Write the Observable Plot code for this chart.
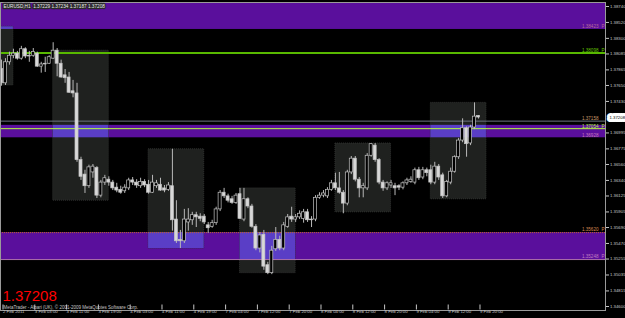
<!DOCTYPE html>
<html><head><meta charset="utf-8">
<script src="https://cdn.jsdelivr.net/npm/d3@7"></script>
<script src="https://cdn.jsdelivr.net/npm/@observablehq/plot@0.6"></script>
<style>
html,body{margin:0;padding:0;background:#000;}
#chart{width:625px;height:318px;overflow:hidden;}
svg{display:block;}
</style></head><body><div id="chart"></div>
<script>
// ---- data (EURUSD H1, 2-9 Feb 2011) ----
const opens = [1.3788,1.3768,1.3797,1.3806,1.3809,1.3802,1.3815,1.3805,1.3806,1.3809,
1.3791,1.3794,1.3795,1.3802,1.3813,1.3795,1.3779,1.3776,1.3757,1.3754,
1.3662,1.3642,1.3626,1.3645,1.3651,1.3613,1.3631,1.3635,1.3631,1.3624,
1.3621,1.3619,1.3623,1.3634,1.3631,1.3626,1.3632,1.3628,1.3617,1.3626,
1.3628,1.3623,1.3621,1.3626,1.3580,1.3552,1.3550,1.3576,1.3579,1.3586,
1.3584,1.3584,1.3572,1.3570,1.3575,1.3594,1.3617,1.3612,1.3608,1.3603,
1.3615,1.3580,1.3608,1.3598,1.3570,1.3540,1.3559,1.3517,1.3506,1.3539,
1.3552,1.3540,1.3570,1.3584,1.3580,1.3583,1.3581,1.3590,1.3580,1.3580,
1.3610,1.3613,1.3612,1.3621,1.3630,1.3623,1.3617,1.3602,1.3645,1.3664,
1.3635,1.3623,1.3623,1.3668,1.3682,1.3662,1.3631,1.3623,1.3627,1.3626,
1.3626,1.3624,1.3630,1.3632,1.3631,1.3648,1.3638,1.3648,1.3648,1.3631,
1.3653,1.3641,1.3612,1.3631,1.3646,1.3666,1.3689,1.3706,1.3685,1.3707,
1.37229];
const highs = [1.3800,1.3802,1.3811,1.3815,1.3812,1.3819,1.3817,1.3812,1.3816,1.3811,
1.3797,1.3804,1.3806,1.3824,1.3816,1.3800,1.3787,1.3783,1.3772,1.3768,
1.3666,1.3648,1.3655,1.3656,1.3653,1.3634,1.3641,1.3639,1.3634,1.3630,
1.3626,1.3628,1.3637,1.3638,1.3635,1.3637,1.3635,1.3634,1.3641,1.3634,
1.3637,1.3627,1.3631,1.3677,1.3606,1.3565,1.3594,1.3595,1.3590,1.3590,
1.3588,1.3587,1.3576,1.3579,1.3597,1.3620,1.3623,1.3615,1.3612,1.3616,
1.3623,1.3623,1.3610,1.3601,1.3573,1.3562,1.3565,1.3521,1.3543,1.3569,
1.3557,1.3576,1.3587,1.3597,1.3587,1.3592,1.3594,1.3594,1.3584,1.3613,
1.3617,1.3620,1.3624,1.3634,1.3644,1.3645,1.3620,1.3648,1.3667,1.3667,
1.3638,1.3630,1.3671,1.3685,1.3685,1.3664,1.3634,1.3632,1.3634,1.3630,
1.3628,1.3632,1.3637,1.3639,1.3651,1.3652,1.3652,1.3651,1.3655,1.3659,
1.3656,1.3644,1.3634,1.3651,1.3668,1.3692,1.3719,1.3708,1.3710,1.3741,
1.37234];
const lows = [1.3764,1.3765,1.3793,1.3802,1.3800,1.3800,1.3802,1.3797,1.3804,1.3790,
1.3782,1.3783,1.3794,1.3801,1.3777,1.3775,1.3768,1.3754,1.3748,1.3659,
1.3634,1.3616,1.3623,1.3637,1.3609,1.3610,1.3627,1.3626,1.3620,1.3617,
1.3615,1.3616,1.3620,1.3627,1.3623,1.3623,1.3624,1.3615,1.3616,1.3623,
1.3619,1.3617,1.3619,1.3564,1.3547,1.3540,1.3547,1.3564,1.3572,1.3569,
1.3577,1.3573,1.3561,1.3568,1.3572,1.3591,1.3609,1.3603,1.3601,1.3601,
1.3580,1.3577,1.3595,1.3568,1.3537,1.3534,1.3510,1.3504,1.3504,1.3536,
1.3537,1.3537,1.3568,1.3576,1.3576,1.3580,1.3575,1.3576,1.3569,1.3577,
1.3608,1.3610,1.3609,1.3619,1.3620,1.3615,1.3588,1.3599,1.3642,1.3632,
1.3610,1.3610,1.3620,1.3666,1.3659,1.3628,1.3619,1.3620,1.3623,1.3613,
1.3620,1.3621,1.3627,1.3630,1.3628,1.3634,1.3635,1.3639,1.3628,1.3628,
1.3634,1.3609,1.3610,1.3628,1.3644,1.3663,1.3686,1.3666,1.3682,1.3704,
1.37187];
const closes = [1.3768,1.3797,1.3806,1.3809,1.3802,1.3815,1.3805,1.3806,1.3811,1.3791,
1.3794,1.3795,1.3804,1.3813,1.3795,1.3776,1.3775,1.3755,1.3754,1.3662,
1.3639,1.3626,1.3652,1.3653,1.3613,1.3631,1.3637,1.3631,1.3623,1.3620,
1.3617,1.3624,1.3634,1.3631,1.3627,1.3632,1.3627,1.3617,1.3631,1.3630,
1.3620,1.3620,1.3627,1.3579,1.3550,1.3550,1.3580,1.3580,1.3586,1.3583,
1.3581,1.3576,1.3568,1.3575,1.3594,1.3617,1.3612,1.3606,1.3603,1.3613,
1.3581,1.3608,1.3598,1.3570,1.3540,1.3558,1.3515,1.3506,1.3537,1.3552,
1.3540,1.3572,1.3583,1.3580,1.3583,1.3588,1.3590,1.3579,1.3579,1.3610,
1.3613,1.3616,1.3621,1.3630,1.3623,1.3617,1.3602,1.3645,1.3664,1.3635,
1.3623,1.3626,1.3668,1.3684,1.3662,1.3631,1.3623,1.3630,1.3630,1.3623,
1.3624,1.3630,1.3634,1.3635,1.3648,1.3637,1.3648,1.3644,1.3631,1.3653,
1.3638,1.3612,1.3632,1.3646,1.3666,1.3689,1.3706,1.3684,1.3707,1.3722,
1.37208];

const xTickIndex = [0,8,16,24,32,40,48,56,64,72,80,88,96,104,112,120];
const xTickLabels = ["2 Feb 2011","3 Feb 03:00","3 Feb 11:00","3 Feb 19:00","4 Feb 03:00","4 Feb 11:00","4 Feb 19:00","7 Feb 04:00","7 Feb 12:00","7 Feb 20:00","8 Feb 04:00","8 Feb 12:00","8 Feb 20:00","9 Feb 04:00","9 Feb 12:00","9 Feb 20:00"];
const yTicks = [1.38740,1.38520,1.38300,1.38085,1.37865,1.37650,1.37430,1.36995,1.36775,1.36560,1.36340,1.36125,1.35905,1.35690,1.35470,1.35255,1.35035,1.34815,1.34600];

// supply/demand zones
const zoneTop = [1.3900, 1.37100, 1.35620];
const zoneBottom = [1.38423, 1.36928, 1.35248];
// session boxes (bar index range and price range)
const boxStart = [-1, 13, 37, 60, 84, 108];
const boxEnd = [3, 27, 51, 74, 98, 122];
const boxHigh = [1.3846, 1.3813, 1.3677, 1.3623, 1.3685, 1.3741];
const boxLow = [1.3765, 1.3606, 1.3540, 1.3506, 1.3590, 1.3608];
// price levels with labels
const levelPrices = [1.38423, 1.38098, 1.37158, 1.37054, 1.36928, 1.35620, 1.35248];
const levelTexts = ["1.38423", "1.38098", "1.37158", "1.37054", "1.36928", "1.35620", "1.35248"];
const levelFlags = ["P", "P", "", "P", "", "P", "P"];
const header = "EURUSD,H1  1.37229 1.37234 1.37187 1.37208";
const lastPrice = 1.37208;
const copyright = "MetaTrader - Alpari (UK), \u00a9 2001-2009 MetaQuotes Software Corp.";

// ---- styles ----
const levelColors = ["#b86a98", "#62c000", "#c89868", "#b8f048", "#c878b8", "#d88850", "#c07cc0"];
const lineStroke = [null, "#58b800", "#6c7480", "#b4ff3c", null, "#c06030", "#b070b0"];
const lineWidth = [1, 2, 1, 1, 1, 1, 1];
const lineDash = ["1,1", null, null, null, null, "1,1", null];

const xDomain = [-0.25, 151.95];
const yDomain = [1.34545, 1.38795];

const candles = closes.map((c, i) => ({i, o: opens[i], h: highs[i], l: lows[i], c}));
const zones = zoneTop.map((t, k) => ({top: t, bot: zoneBottom[k]}));
const boxes = boxStart.map((s, k) => ({s, e: boxEnd[k], hi: boxHigh[k], lo: boxLow[k]}));
const overlaps = [];
boxes.forEach(b => zones.forEach(z => {
  const top = Math.min(b.hi, z.top), bot = Math.max(b.lo, z.bot);
  if (top > bot) overlaps.push({s: b.s, e: b.e, top, bot});
}));
const levels = levelPrices.map((p, k) => ({p, t: levelTexts[k], f: levelFlags[k], k}));
const lineLevels = levels.filter(d => lineStroke[d.k]);

const font = "Liberation Sans";
const plot = Plot.plot({
  width: 625, height: 318,
  marginLeft: 0, marginRight: 20, marginTop: 2, marginBottom: 8,
  style: {background: "#000", fontFamily: font, color: "#c0c0c0"},
  x: {type: "linear", domain: xDomain, axis: null},
  y: {domain: yDomain, axis: null},
  marks: [
    Plot.rect(zones, {x1: xDomain[0], x2: xDomain[1], y1: "bot", y2: "top", fill: "#5a0f9c", clip: true}),
    Plot.rect(boxes, {x1: "s", x2: "e", y1: "lo", y2: "hi", fill: "#1f211f", stroke: "#363836", strokeDasharray: "1,1", strokeWidth: 0.8, clip: true}),
    Plot.rect(overlaps, {x1: "s", x2: "e", y1: "bot", y2: "top", fill: "#5a3ec6", clip: true}),
    ...lineLevels.map(d => Plot.ruleY([d.p], {stroke: lineStroke[d.k], strokeWidth: lineWidth[d.k], strokeDasharray: lineDash[d.k]})),
    Plot.text(levels, {y: "p", text: "t", frameAnchor: "right", textAnchor: "end", dx: -7, dy: -2.6, fontSize: 4.6, fill: d => levelColors[d.k]}),
    Plot.text(levels, {y: "p", text: "f", frameAnchor: "right", textAnchor: "end", dx: -1, dy: -2.6, fontSize: 4.6, fill: d => levelColors[d.k]}),
    Plot.ruleX(candles, {x: "i", y1: "l", y2: "h", stroke: "#b8b8b8", strokeWidth: 1}),
    Plot.rect(candles, {x1: d => d.i - 0.38, x2: d => d.i + 0.38,
      y1: d => Math.min(d.o, d.c), y2: d => Math.max(d.o, d.c),
      fill: d => d.c < d.o ? "#d8d8d8" : "#000", stroke: "#c4c4c4", strokeWidth: 0.7}),
    Plot.frame({stroke: "#9a9a9a"}),
    Plot.axisY({anchor: "right", ticks: yTicks, tickFormat: d3.format(".5f"), tickSize: 3, tickPadding: 1.5,
      fontSize: 4.3, fill: "#c8c8c8", stroke: "#c8c8c8", label: null}),
    Plot.axisX({anchor: "bottom", ticks: xTickIndex, tickFormat: d => xTickLabels[xTickIndex.indexOf(d)],
      tickSize: 5, tickPadding: 0, textAnchor: "start", dx: 1.5, dy: -5.5, fontSize: 4.3,
      fill: "#c8c8c8", stroke: "#c8c8c8", label: null}),
    Plot.text([lastPrice], {y: d => d, text: d => d.toFixed(5), frameAnchor: "right", textAnchor: "start", dx: 4,
      fontSize: 4.3, fill: "#000", stroke: "#fff", strokeWidth: 6, paintOrder: "stroke"}),
    Plot.text([header], {frameAnchor: "top-left", dx: 3, dy: 2, lineAnchor: "top", fontSize: 4.7,
      fill: "#e8e8e8", stroke: "#2a2a2a", strokeWidth: 2.5, paintOrder: "stroke"}),
    Plot.text([lastPrice], {text: d => d.toFixed(5), frameAnchor: "bottom-left", dx: 2, dy: -9.5, lineAnchor: "bottom",
      fontSize: 15, fill: "#ff0000"}),
    Plot.text([copyright], {frameAnchor: "bottom-left", dx: 3, dy: -2, lineAnchor: "bottom", fontSize: 4.5, fill: "#c8c8c8"})
  ]
});
document.getElementById("chart").appendChild(plot);
</script>
</body></html>
